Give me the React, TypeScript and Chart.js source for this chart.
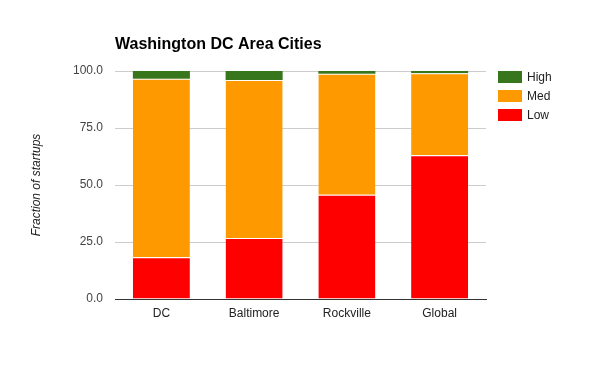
import React, { useEffect, useRef } from "react";
import { Chart, registerables } from "chart.js";

Chart.register(...registerables);

const categories = ["DC", "Baltimore", "Rockville", "Global"];
const lowValues = [18.3, 26.7, 45.7, 63.1];
const medValues = [78.3, 69.4, 53.1, 35.9];
const highValues = [3.4, 3.9, 1.2, 1.0];
const yTicks = [0, 25, 50, 75, 100];

const titleText = "Washington DC Area Cities";
const yTitleText = "Fraction of startups";
const seriesNames = ["High", "Med", "Low"];
const seriesColors = ["#38761d", "#ff9900", "#ff0000"];

const FONT = "Arial, 'Liberation Sans', sans-serif";

const overlayPlugin = {
  id: "overlay",
  afterDraw(chart: any) {
    const ctx = chart.ctx;
    ctx.save();
    ctx.fillStyle = "#000";
    ctx.font = `bold 16px ${FONT}`;
    ctx.textAlign = "left";
    ctx.textBaseline = "alphabetic";
    ctx.fillText(titleText, chart.chartArea.left, 49);

    ctx.font = `12px ${FONT}`;
    ctx.textBaseline = "middle";
    seriesNames.forEach((name, i) => {
      const y = 71 + i * 19;
      ctx.fillStyle = seriesColors[i];
      ctx.fillRect(chart.chartArea.right + 12, y, 24, 12);
      ctx.fillStyle = "#222";
      ctx.fillText(name, chart.chartArea.right + 41, y + 6.5);
    });
    ctx.restore();
  },
};

export default function App() {
  const ref = useRef<HTMLCanvasElement>(null);

  useEffect(() => {
    if (!ref.current) return;
    const chart = new Chart(ref.current, {
      type: "bar",
      data: {
        labels: categories,
        datasets: [
          {
            label: "Low",
            data: lowValues,
            backgroundColor: seriesColors[2],
            borderColor: "#ffffff",
            borderWidth: { top: 1, left: 0, right: 0, bottom: 0 },
            borderSkipped: false,
          },
          {
            label: "Med",
            data: medValues,
            backgroundColor: seriesColors[1],
            borderColor: "#ffffff",
            borderWidth: { top: 1, left: 0, right: 0, bottom: 0 },
            borderSkipped: false,
          },
          {
            label: "High",
            data: highValues,
            backgroundColor: seriesColors[0],
            borderWidth: 0,
          },
        ],
      },
      options: {
        responsive: false,
        animation: false,
        devicePixelRatio: 1,
        layout: { padding: { top: 71, right: 114, left: 0, bottom: 0 } },
        datasets: { bar: { barPercentage: 0.615, categoryPercentage: 1 } },
        plugins: {
          legend: { display: false },
          title: { display: false },
          tooltip: { enabled: false },
        },
        scales: {
          x: {
            stacked: true,
            grid: { display: false, drawTicks: false },
            border: { display: true, color: "#333333", width: 1 },
            ticks: {
              padding: 7,
              color: "#222",
              font: { family: FONT, size: 12 },
            },
            afterFit(scale: any) {
              scale.height = 72;
            },
          },
          y: {
            stacked: true,
            min: 0,
            max: 100,
            afterBuildTicks(scale: any) {
              scale.ticks = yTicks.map((v) => ({ value: v }));
            },
            grid: {
              drawTicks: false,
              color: (c: any) => (c.tick && c.tick.value === 0 ? "#333333" : "#cccccc"),
            },
            border: { display: false },
            ticks: {
              padding: 12,
              color: "#444",
              font: { family: FONT, size: 12 },
              callback: (v: any) => Number(v).toFixed(1),
            },
            title: {
              display: true,
              text: yTitleText,
              color: "#222",
              padding: { top: 29, bottom: 0 },
              font: { family: FONT, size: 12, style: "italic" },
            },
            afterFit(scale: any) {
              scale.width = 115;
            },
          },
        },
      },
      plugins: [overlayPlugin],
    } as any);
    return () => chart.destroy();
  }, []);

  return (
    <div style={{ position: "absolute", left: 0, top: 0, width: 600, height: 371, background: "#fff" }}>
      <canvas ref={ref} width={600} height={371} style={{ display: "block", width: 600, height: 371 }} />
    </div>
  );
}
